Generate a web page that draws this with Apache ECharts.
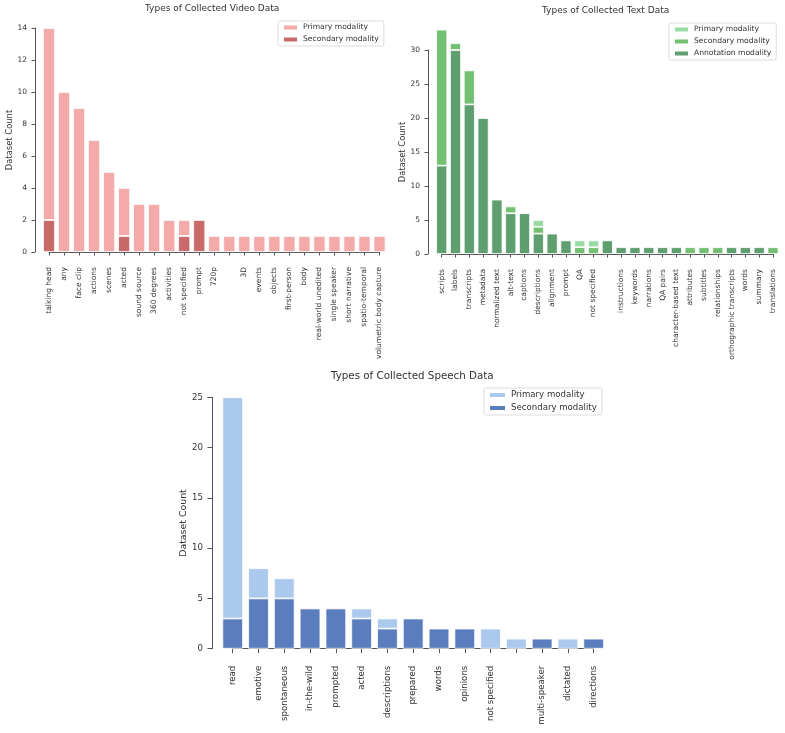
<!DOCTYPE html>
<html>
<head>
<meta charset="utf-8">
<title>Types of Collected Data</title>
<script src="https://cdn.jsdelivr.net/npm/echarts@6/dist/echarts.min.js"></script>
<style>
html, body { margin: 0; padding: 0; background: #fff; }
#chart { width: 785px; height: 733px; }
</style>
</head>
<body>
<div id="chart"></div>
<script>
// video panel
var videoCategories = ['talking head', 'any', 'face clip', 'actions', 'scenes', 'acted', 'sound source',
  '360 degrees', 'activities', 'not specified', 'prompt', '720p', ' ', '3D', 'events', 'objects',
  'first-person', 'body', 'real-world unedited', 'single speaker', 'short narrative', 'spatio-temporal',
  'volumetric body capture'];
var videoPrimary   = [12, 10, 9, 7, 5, 3, 3, 3, 2, 1, 0, 1, 1, 1, 1, 1, 1, 1, 1, 1, 1, 1, 1];
var videoSecondary = [2, 0, 0, 0, 0, 1, 0, 0, 0, 1, 2, 0, 0, 0, 0, 0, 0, 0, 0, 0, 0, 0, 0];
var videoTicks = [0, 14, 2];

// text panel
var textCategories = ['scripts', 'labels', 'transcripts', 'metadata', 'normalized text', 'alt-text',
  'captions', 'descriptions', 'alignment', 'prompt', 'QA', 'not specified', ' ', 'instructions',
  'keywords', 'narrations', 'QA pairs', 'character-based text', 'attributes', 'subtitles',
  'relationships', 'orthographic transcripts', 'words', 'summary', 'translations'];
var textAnnotation = [13, 30, 22, 20, 8, 6, 6, 3, 3, 2, 0, 0, 2, 1, 1, 1, 1, 1, 0, 0, 0, 1, 1, 1, 0];
var textSecondary  = [20, 1, 5, 0, 0, 1, 0, 1, 0, 0, 1, 1, 0, 0, 0, 0, 0, 0, 1, 1, 1, 0, 0, 0, 1];
var textPrimary    = [0, 0, 0, 0, 0, 0, 0, 1, 0, 0, 1, 1, 0, 0, 0, 0, 0, 0, 0, 0, 0, 0, 0, 0, 0];
var textTicks = [0, 30, 5];

// speech panel
var speechCategories = ['read', 'emotive', 'spontaneous', 'in-the-wild', 'prompted', 'acted',
  'descriptions', 'prepared', 'words', 'opinions', 'not specified', ' ', 'multi-speaker',
  'dictated', 'directions'];
var speechPrimary   = [22, 3, 2, 0, 0, 1, 1, 0, 0, 0, 2, 1, 0, 1, 0];
var speechSecondary = [3, 5, 5, 4, 4, 3, 2, 3, 2, 2, 0, 0, 1, 0, 1];
var speechTicks = [0, 25, 5];

var FONT = 'DejaVu Sans';
var INK = '#333';
var AXIS = '#555';

var chart = echarts.init(document.getElementById('chart'));

function catAxis(grid, data, fs, margin, tickLen) {
  return {
    type: 'category', gridIndex: grid, data: data, boundaryGap: false, offset: 6,
    axisLine: { lineStyle: { color: AXIS, width: 1 } },
    axisTick: { length: tickLen, interval: 0, lineStyle: { color: AXIS } },
    axisLabel: { interval: 0, rotate: 90, fontSize: fs, color: INK, margin: margin, fontFamily: FONT },
    splitLine: { show: false }
  };
}

function valAxis(grid, ticks, off, fs, nameFs, nameGap, tickLen, margin) {
  return {
    type: 'value', gridIndex: grid, min: ticks[0], max: ticks[1], interval: ticks[2], offset: off,
    name: 'Dataset Count', nameLocation: 'middle', nameGap: nameGap,
    nameTextStyle: { fontSize: nameFs, color: INK, fontFamily: FONT },
    axisLine: { show: true, lineStyle: { color: AXIS, width: 1 } },
    axisTick: { show: true, length: tickLen, lineStyle: { color: AXIS } },
    axisLabel: { fontSize: fs, color: INK, margin: margin, fontFamily: FONT },
    splitLine: { show: false }
  };
}

function bars(name, grid, stack, data, color) {
  return {
    name: name, type: 'bar', xAxisIndex: grid, yAxisIndex: grid, stack: stack,
    // empty segments are left out so they draw nothing
    data: data.map(function (v) { return v === 0 ? '-' : v; }),
    barWidth: '80%', clip: false,
    itemStyle: { color: color, borderColor: '#fff', borderWidth: 0.8 },
    emphasis: { disabled: true }
  };
}

function legend(left, top, names, fs, w, lh) {
  return {
    left: left, top: top, orient: 'vertical', data: names,
    icon: 'rect', itemWidth: w, itemHeight: 6, itemGap: 3,
    padding: [2, 5, 2, 4], borderColor: '#ddd', borderWidth: 1, borderRadius: 2,
    textStyle: { fontSize: fs, color: INK, fontFamily: FONT, lineHeight: lh },
    formatter: function (n) { return n.split('|')[1]; },
    selectedMode: false
  };
}

var option = {
  animation: false,
  backgroundColor: '#fff',
  title: [
    { text: 'Types of Collected Video Data', left: 145, top: 4.5, padding: 0,
      textStyle: { fontSize: 9, fontWeight: 'normal', color: INK, fontFamily: FONT } },
    { text: 'Types of Collected Text Data', left: 542, top: 6.5, padding: 0,
      textStyle: { fontSize: 9, fontWeight: 'normal', color: INK, fontFamily: FONT } },
    { text: 'Types of Collected Speech Data', left: 331, top: 371, padding: 0,
      textStyle: { fontSize: 10.3, fontWeight: 'normal', color: INK, fontFamily: FONT } }
  ],
  legend: [
    legend(278, 21, ['video|Primary modality', 'video|Secondary modality'], 7.6, 15, 9),
    legend(669, 23, ['text|Primary modality', 'text|Secondary modality', 'text|Annotation modality'], 7.6, 15, 9),
    legend(484, 388, ['speech|Primary modality', 'speech|Secondary modality'], 8.6, 17, 10)
  ],
  grid: [
    { left: 49, top: 28, width: 330.5, height: 224, outerBoundsMode: 'none' },
    { left: 441.7, top: 50, width: 331.3, height: 204, outerBoundsMode: 'none' },
    { left: 232.7, top: 397.3, width: 361, height: 251.4, outerBoundsMode: 'none' }
  ],
  xAxis: [
    catAxis(0, videoCategories, 7.5, 9, 3.5),
    catAxis(1, textCategories, 7.5, 9, 3.5),
    catAxis(2, speechCategories, 8.6, 11, 4.5)
  ],
  yAxis: [
    valAxis(0, videoTicks, 14, 7.5, 8.4, 21, 3.5, 8),
    valAxis(1, textTicks, 13.7, 7.5, 8.4, 21, 3.5, 8),
    valAxis(2, speechTicks, 20.7, 8.6, 9.4, 24, 4.5, 9)
  ],
  series: [
    bars('video|Secondary modality', 0, 'video', videoSecondary, '#C86A6A'),
    bars('video|Primary modality', 0, 'video', videoPrimary, '#F3AAA8'),
    bars('text|Annotation modality', 1, 'text', textAnnotation, '#5F9F6F'),
    bars('text|Secondary modality', 1, 'text', textSecondary, '#74C072'),
    bars('text|Primary modality', 1, 'text', textPrimary, '#98DBA5'),
    bars('speech|Secondary modality', 2, 'speech', speechSecondary, '#5A7DBE'),
    bars('speech|Primary modality', 2, 'speech', speechPrimary, '#AAC9EC')
  ]
};

chart.setOption(option);
</script>
</body>
</html>
